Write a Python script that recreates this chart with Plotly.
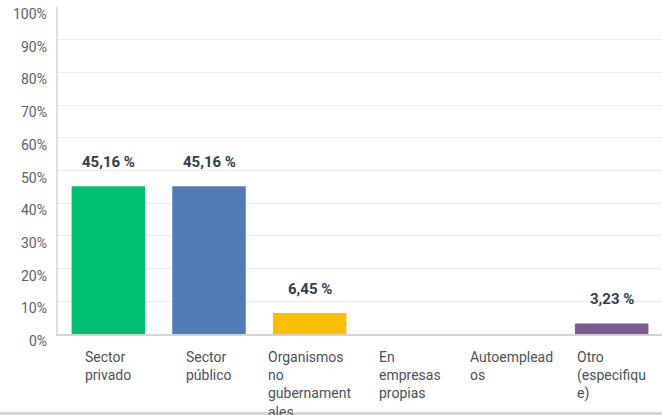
import plotly.graph_objects as go

categories = ["Sector privado", "Sector público", "Organismos no gubernamentales",
              "En empresas propias", "Autoempleados", "Otro (especifique)"]
tick_texts = ["Sector<br>privado", "Sector<br>público", "Organismos<br>no<br>gubernament<br>ales",
              "En<br>empresas<br>propias", "Autoemplead<br>os", "Otro<br>(especifiqu<br>e)"]
values = [45.16, 45.16, 6.45, 0, 0, 3.23]
value_labels = ["45,16 %", "45,16 %", "6,45 %", "", "", "3,23 %"]
colors = ["#00BF6F", "#507CB6", "#F9BE00", "#6BC8CD", "#FF8B4F", "#7D5A91"]
y_ticks = [0, 10, 20, 30, 40, 50, 60, 70, 80, 90, 100]
y_tick_labels = ["0%", "10%", "20%", "30%", "40%", "50%", "60%", "70%", "80%", "90%", "100%"]

FONT = "Roboto"

fig = go.Figure()
fig.add_trace(go.Bar(
    x=categories, y=values, marker=dict(color=colors, line=dict(width=0)),
    hoverinfo="skip", showlegend=False,
))

annotations = []
for c, v, lab in zip(categories, values, value_labels):
    if lab:
        annotations.append(dict(
            x=c, y=v, xref="x", yref="y", text=lab, showarrow=False,
            yanchor="bottom", yshift=13,
            font=dict(family=FONT, size=15, color="#333e48", weight="bold"),
        ))
for c, t in zip(categories, tick_texts):
    annotations.append(dict(
        x=c, y=0, xref="x", yref="y", text=t, showarrow=False,
        yanchor="top", xanchor="center", align="left", yshift=-13,
        font=dict(family=FONT, size=14, color="#4b5157"),
    ))
for v, t in zip(y_ticks, y_tick_labels):
    annotations.append(dict(
        x=0, y=v, xref="paper", yref="y", text=t, showarrow=False,
        xanchor="right", yanchor="middle", xshift=-9, yshift=-7,
        font=dict(family=FONT, size=14, color="#5a5f64"),
    ))

fig.update_layout(
    width=662, height=415,
    margin=dict(l=58, r=0, t=7, b=81, autoexpand=False),
    paper_bgcolor="white", plot_bgcolor="white",
    bargap=0.27,
    annotations=annotations,
    shapes=[dict(type="line", xref="paper", yref="paper",
                 x0=-58 / 604, x1=1.01, y0=-79.5 / 327, y1=-79.5 / 327,
                 line=dict(color="#d6d6d6", width=3), layer="above")],
    xaxis=dict(showticklabels=False, showgrid=False, zeroline=False, automargin=False,
               showline=True, linecolor="#d4d4d4", linewidth=2, ticks="", fixedrange=True),
    yaxis=dict(range=[0, 100], tickvals=y_ticks, showticklabels=False, automargin=False,
               showgrid=True, gridcolor="#ececec", gridwidth=1,
               zeroline=False, showline=True, linecolor="#dedede", linewidth=1.5,
               ticks="", fixedrange=True),
)

fig.write_html("out.html", config={"displayModeBar": False},
               post_script="document.body.style.margin='0';document.body.style.overflow='hidden';")
